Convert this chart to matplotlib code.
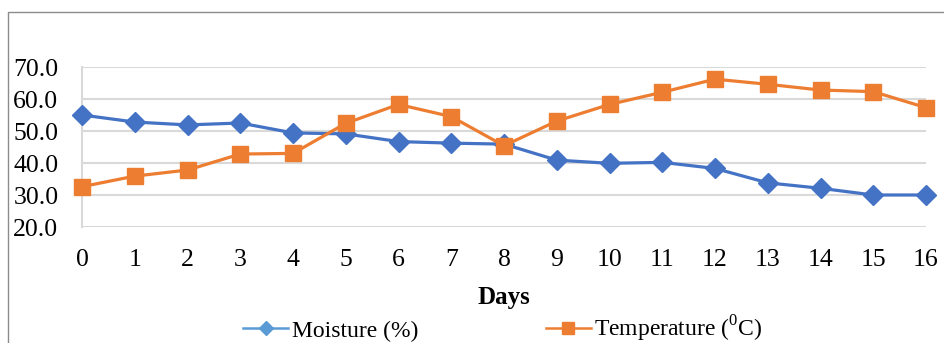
import matplotlib.pyplot as plt
from matplotlib.lines import Line2D
from matplotlib.patches import Rectangle

plt.rcParams['font.family'] = ['Liberation Serif', 'DejaVu Serif']
plt.rcParams['mathtext.fontset'] = 'custom'
plt.rcParams['mathtext.rm'] = 'Liberation Serif'

days = list(range(17))
moisture = [55.0, 52.8, 51.9, 52.5, 49.4, 49.1, 46.7, 46.2, 45.9, 40.9,
            39.9, 40.2, 38.3, 33.8, 32.1, 30.0, 30.0]
temperature = [32.6, 35.9, 37.8, 42.8, 43.0, 52.4, 58.3, 54.5, 45.4, 53.1,
               58.3, 62.1, 66.2, 64.6, 62.8, 62.3, 57.3]
yticks = [20, 30, 40, 50, 60, 70]

W, H = 944, 343
fig = plt.figure(figsize=(W / 100, H / 100), dpi=100)

# outer chart border (runs off the right and bottom edges)
fig.patches.append(Rectangle((8 / W, -0.1), 1.1, 1 - 12 / H + 0.1,
                             transform=fig.transFigure, fill=False,
                             edgecolor='#8c8c8c', linewidth=1))

ax = fig.add_axes([82 / W, 1 - 227 / H, (926 - 82) / W, 160 / H])
ax.set_xlim(0, 16)
ax.set_ylim(20, 70)
ax.set_yticks(yticks)
ax.set_yticklabels([f'{v:.1f}' for v in yticks])
ax.set_xticks(days)
ax.grid(axis='y', color='#d9d9d9', linewidth=1.5)
ax.set_axisbelow(True)
for s in ['top', 'right', 'bottom']:
    ax.spines[s].set_visible(False)
ax.spines['left'].set_color('#d9d9d9')
ax.spines['left'].set_linewidth(1.5)
ax.tick_params(length=0, labelsize=18.5, colors='black')
ax.tick_params(axis='x', pad=15.5)
ax.tick_params(axis='y', pad=17)

ax.plot(days, moisture, color='#4472C4', lw=2.3, marker='D', ms=10,
        clip_on=False, zorder=3)
ax.plot(days, temperature, color='#ED7D31', lw=2.3, marker='s', ms=12,
        clip_on=False, zorder=3)

ax.set_xlabel('Days', fontsize=18, fontweight='bold', labelpad=11)

handles = [
    Line2D([], [], color='#5B9BD5', lw=1.8, marker='D', ms=7),
    Line2D([], [], color='#ED7D31', lw=1.8, marker='s', ms=8),
]
fig.legend(handles, ['Moisture (%)', 'Temperature ($^{0}$C)'], ncol=2,
           loc='center left', bbox_to_anchor=(234 / W, 1 - 329 / H),
           frameon=False, fontsize=17, handlelength=1.9, handletextpad=0.15,
           columnspacing=5.4, borderaxespad=0)

fig.savefig('out.png', dpi=100)
